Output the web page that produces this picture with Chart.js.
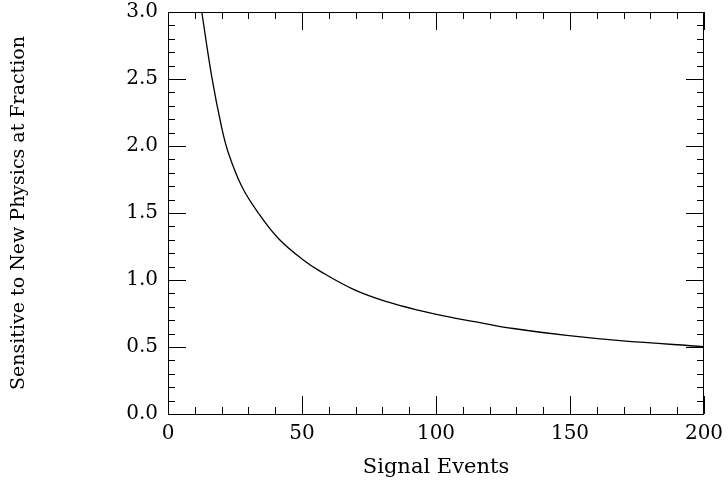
<!DOCTYPE html>
<html>
<head>
<meta charset="utf-8">
<script src="https://cdn.jsdelivr.net/npm/chart.js@4.4.0/dist/chart.umd.min.js"></script>
<style>
  html, body { margin: 0; padding: 0; background: #fff; }
  #wrap { width: 728px; height: 489px; }
</style>
</head>
<body>
<div id="wrap"><canvas id="chart"></canvas></div>
<script>
// values
const signalEvents = [12.6, 16.3, 20, 22.5, 27.5, 33.7, 41.2, 50.5, 56.7, 69.2, 81.6, 94, 106.5, 116.4, 128.8, 148.8, 168.7, 200];
const sensitivity = [3.0, 2.52, 2.14, 1.95, 1.70, 1.50, 1.31, 1.149, 1.066, 0.930, 0.838, 0.772, 0.718, 0.682, 0.638, 0.586, 0.547, 0.503];

const xTitle = 'Signal Events';
const yTitle = 'Sensitive to New Physics at Fraction';

const FONT = 'DejaVu Serif';

// frame + inward ticks on all four sides (major/minor)
const frameTicks = {
    id: 'frameTicks',
    afterDraw(chart) {
        const ctx = chart.ctx;
        const a = chart.chartArea;
        const xs = chart.scales.x;
        const ys = chart.scales.y;
        ctx.save();
        ctx.strokeStyle = '#000';
        ctx.lineWidth = 1;
        ctx.strokeRect(a.left + 0.5, a.top + 0.5, a.right - a.left - 1, a.bottom - a.top);

        ctx.beginPath();
        for (let v = 0; v <= 200; v += 10) {
            const len = (v % 50 === 0) ? 18 : 7;
            const px = Math.round(xs.getPixelForValue(v)) + 0.5;
            ctx.moveTo(px, a.bottom); ctx.lineTo(px, a.bottom - len);
            ctx.moveTo(px, a.top); ctx.lineTo(px, a.top + len);
        }
        for (let i = 0; i <= 30; i++) {
            const v = i / 10;
            const len = (i % 5 === 0) ? 18 : 7;
            const py = Math.round(ys.getPixelForValue(v)) + 0.5;
            ctx.moveTo(a.left, py); ctx.lineTo(a.left + len, py);
            ctx.moveTo(a.right, py); ctx.lineTo(a.right - len, py);
        }
        ctx.stroke();
        ctx.restore();
    }
};

const data = {
    datasets: [
        {
            label: 'Sensitivity',
            data: signalEvents.map((x, i) => ({ x: x, y: sensitivity[i] })),
            borderColor: '#000',
            borderWidth: 1.3,
            pointRadius: 0,
            fill: false,
            tension: 0.4,
        }
    ]
};

const config = {
    type: 'line',
    data: data,
    options: {
        responsive: true,
        maintainAspectRatio: false,
        animation: false,
        layout: {
            padding: { top: 12, right: 24, left: 0, bottom: 0 }
        },
        scales: {
            x: {
                type: 'linear',
                min: 0,
                max: 200,
                grid: { display: false, drawTicks: false },
                border: { display: false },
                ticks: {
                    stepSize: 50,
                    padding: 8,
                    color: '#000',
                    font: { family: FONT, size: 20 },
                    maxRotation: 0,
                },
                title: {
                    display: true,
                    text: xTitle,
                    color: '#000',
                    font: { family: FONT, size: 21 },
                    padding: { top: 0, bottom: 9 }
                },
                afterFit(scale) {
                    scale.height = 75;
                    scale.paddingLeft = 0;
                    scale.paddingRight = 0;
                }
            },
            y: {
                min: 0,
                max: 3,
                grid: { display: false, drawTicks: false },
                border: { display: false },
                ticks: {
                    stepSize: 0.5,
                    padding: 10,
                    color: '#000',
                    font: { family: FONT, size: 20 },
                    callback: (v) => v.toFixed(1)
                },
                title: {
                    display: true,
                    text: yTitle,
                    color: '#000',
                    font: { family: FONT, size: 19 },
                    padding: { top: 8, bottom: 0 }
                },
                afterFit(scale) {
                    scale.width = 168;
                    scale.paddingTop = 0;
                    scale.paddingBottom = 0;
                }
            }
        },
        plugins: {
            legend: { display: false },
            tooltip: { enabled: false }
        }
    },
    plugins: [frameTicks]
};

new Chart(document.getElementById('chart').getContext('2d'), config);
</script>
</body>
</html>
